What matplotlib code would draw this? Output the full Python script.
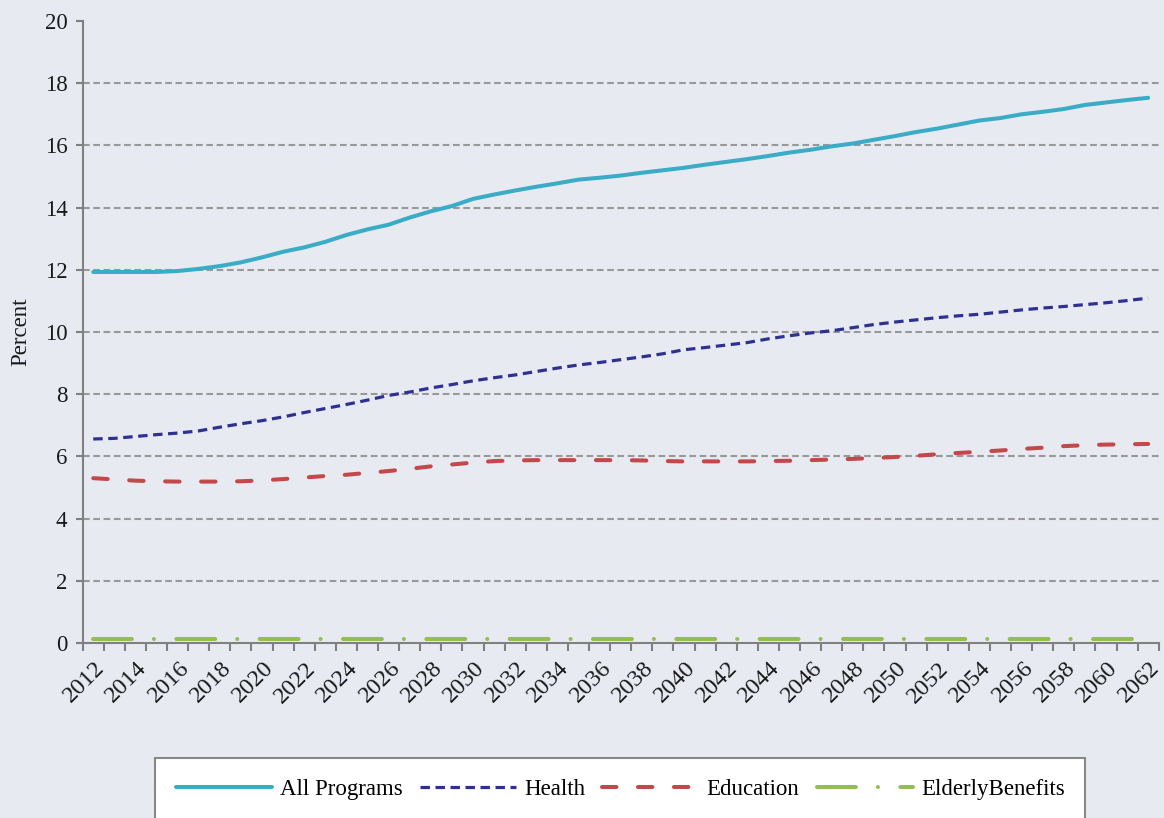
import numpy as np
import matplotlib
matplotlib.use("Agg")
import matplotlib.pyplot as plt
from matplotlib.transforms import ScaledTranslation

# ---- data (percent) ----
years = list(range(2012, 2063))
all_programs = [11.93, 11.93, 11.93, 11.93, 11.96, 12.03, 12.12, 12.24, 12.40, 12.58,
                12.72, 12.90, 13.12, 13.30, 13.45, 13.68, 13.88, 14.05, 14.28, 14.42,
                14.55, 14.67, 14.78, 14.90, 14.96, 15.03, 15.12, 15.20, 15.28, 15.38,
                15.47, 15.56, 15.66, 15.77, 15.86, 15.97, 16.06, 16.18, 16.30, 16.43,
                16.54, 16.67, 16.80, 16.88, 17.00, 17.08, 17.17, 17.30, 17.38, 17.46,
                17.53]
health = [6.56, 6.58, 6.64, 6.70, 6.75, 6.82, 6.94, 7.05, 7.15, 7.27,
          7.41, 7.54, 7.67, 7.81, 7.96, 8.07, 8.20, 8.31, 8.43, 8.53,
          8.62, 8.73, 8.84, 8.94, 9.02, 9.11, 9.20, 9.30, 9.43, 9.50,
          9.58, 9.66, 9.78, 9.88, 9.97, 10.04, 10.14, 10.24, 10.32, 10.39,
          10.46, 10.52, 10.57, 10.64, 10.71, 10.77, 10.82, 10.88, 10.94, 11.01,
          11.09]
education = [5.30, 5.26, 5.22, 5.20, 5.19, 5.19, 5.19, 5.20, 5.23, 5.27,
             5.32, 5.37, 5.41, 5.47, 5.53, 5.60, 5.68, 5.74, 5.80, 5.85,
             5.87, 5.88, 5.88, 5.88, 5.88, 5.88, 5.87, 5.85, 5.84, 5.84,
             5.84, 5.84, 5.85, 5.86, 5.88, 5.90, 5.92, 5.95, 5.98, 6.02,
             6.07, 6.11, 6.15, 6.19, 6.24, 6.28, 6.33, 6.36, 6.38, 6.39,
             6.40]
elderly = [0.12, 0.12, 0.12, 0.12, 0.12, 0.12, 0.12, 0.12, 0.12, 0.12,
           0.12, 0.12, 0.12, 0.12, 0.12, 0.12, 0.12, 0.12, 0.12, 0.12,
           0.12, 0.12, 0.12, 0.12, 0.12, 0.12, 0.12, 0.12, 0.12, 0.12,
           0.12, 0.12, 0.12, 0.12, 0.12, 0.12, 0.12, 0.12, 0.12, 0.12,
           0.12, 0.12, 0.12, 0.12, 0.12, 0.12, 0.12, 0.12, 0.12, 0.12,
           0.12]
y_ticks = [0, 2, 4, 6, 8, 10, 12, 14, 16, 18, 20]

plt.rcParams['font.family'] = ['Liberation Serif', 'DejaVu Serif']
plt.rcParams['lines.scale_dashes'] = False

bg = '#E7EAF1'
axis_gray = '#808080'

fig = plt.figure(figsize=(11.64, 8.18), dpi=100, facecolor=bg)
ax = fig.add_axes([82.7 / 1164, 175 / 818, 1076 / 1164, 622 / 818])
ax.set_facecolor(bg)

x = np.arange(len(years))

ax.plot(x, all_programs, color='#3AACC6', lw=2.9, solid_capstyle='round',
        label='All Programs', zorder=5)
ax.plot(x, health, color='#2E3192', lw=2.3, linestyle=(0, (6.8, 4.0)),
        label='Health', zorder=4)
ax.plot(x, education, color='#C4474A', lw=2.9, linestyle=(0, (10.4, 15.5)),
        dash_capstyle='round', label='Education', zorder=4)
ax.plot(x, elderly, color='#93BF4F', lw=2.9, linestyle=(0, (28.0, 15.8, 0.1, 16.1)),
        dash_capstyle='round', label='ElderlyBenefits', zorder=4)

ax.set_xlim(-0.5, len(years) - 0.5)
ax.set_ylim(0, 20)

# y axis
ax.set_yticks(y_ticks)
ax.tick_params(axis='y', length=5, width=1.5, color=axis_gray, pad=6,
               labelsize=16.5, labelcolor='#1a1a1a')
ax.yaxis.grid(True, color='#999999', linestyle=(0, (4.8, 2.6)), linewidth=1.5)
ax.set_axisbelow(True)
gl = ax.yaxis.get_gridlines()
gl[0].set_visible(False)
gl[-1].set_visible(False)

# x axis: tick marks between categories, labels every other year
ax.set_xticks(np.arange(-0.5, len(years), 1.0))
ax.set_xticklabels([])
ax.tick_params(axis='x', which='major', length=6, width=1.5, color=axis_gray)
ax.set_xticks(x[::2], minor=True)
ax.set_xticklabels([str(y) for y in years[::2]], minor=True, rotation=45,
                   ha='right', va='center', rotation_mode='anchor', fontsize=17.5,
                   color='#1a1a1a')
ax.tick_params(axis='x', which='minor', length=0, pad=16)
offset = ScaledTranslation(6 / 72, 0, fig.dpi_scale_trans)
for lbl in ax.get_xticklabels(minor=True):
    lbl.set_transform(lbl.get_transform() + offset)

for side in ['top', 'right']:
    ax.spines[side].set_visible(False)
for side in ['left', 'bottom']:
    ax.spines[side].set_color(axis_gray)
    ax.spines[side].set_linewidth(1.5)

ax.set_ylabel('Percent', fontsize=16.5, color='#1a1a1a')
ax.yaxis.set_label_coords(-0.048, 0.5)

leg = ax.legend(loc='upper left', bbox_to_anchor=(155 / 1164, 1 - 758 / 818),
                bbox_transform=fig.transFigure, borderaxespad=0, ncol=4,
                frameon=True, fancybox=False, edgecolor='#888888',
                facecolor='white', framealpha=1, handlelength=4.2,
                handletextpad=0.35, columnspacing=0.75, borderpad=0.9,
                fontsize=16.5)
leg.get_frame().set_linewidth(1.5)

fig.savefig('out.png', dpi=100, facecolor=bg)
